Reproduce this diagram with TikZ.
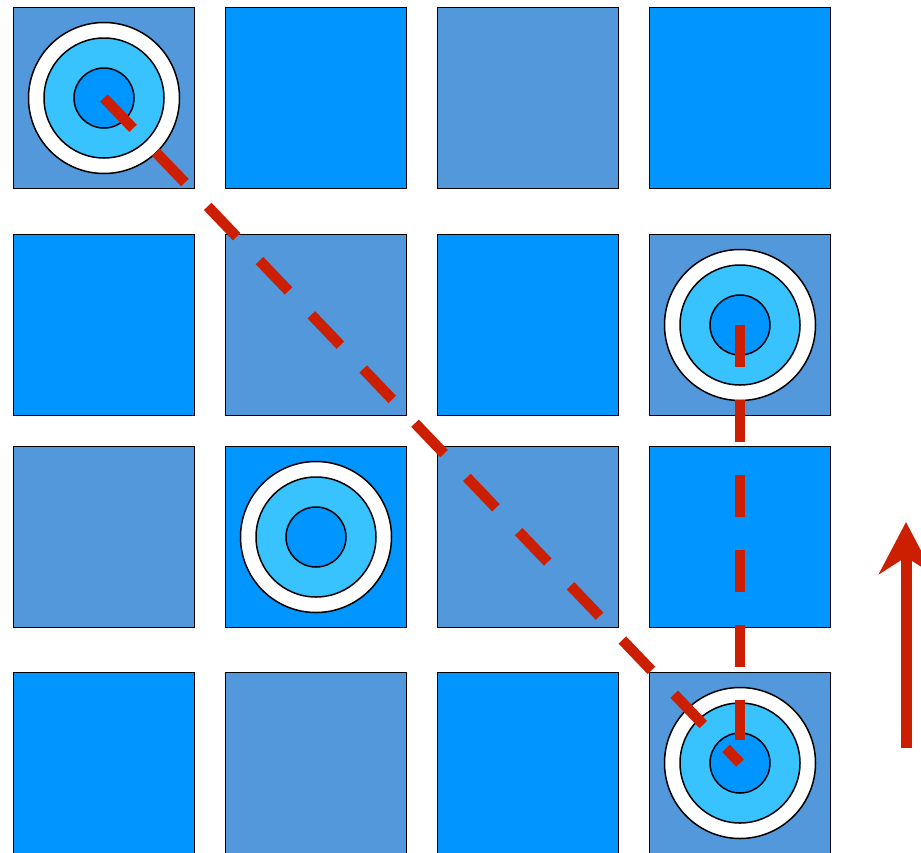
\documentclass[tikz,border=0pt]{standalone}
\usetikzlibrary{arrows.meta}

\definecolor{steeltile}{RGB}{82,152,219}
\definecolor{brighttile}{RGB}{0,149,255}
\definecolor{ringcyan}{RGB}{56,195,255}
\definecolor{pathred}{RGB}{204,30,0}

\tikzset{
  tile/.style={draw=black, line width=1.5pt, minimum size=181pt, inner sep=0pt},
  ringout/.style={circle, draw=black, line width=1.5pt, fill=white, minimum size=151pt, inner sep=0pt},
  ringmid/.style={circle, draw=black, line width=1.5pt, fill=ringcyan, minimum size=120pt, inner sep=0pt},
  ringin/.style={circle, draw=black, line width=1.5pt, fill=brighttile, minimum size=60pt, inner sep=0pt},
  route/.style={pathred, line width=10.5pt, dash pattern=on 42pt off 33pt}
}

\begin{document}
\begin{tikzpicture}[x=1pt, y=-1pt]
\useasboundingbox (0,0) rectangle (921,852);

% the board
\node[tile, fill=steeltile]  (t00) at (104,98) {};
\node[tile, fill=brighttile] (t01) at (316,98) {};
\node[tile, fill=steeltile]  (t02) at (528,98) {};
\node[tile, fill=brighttile] (t03) at (740,98) {};

\node[tile, fill=brighttile] (t10) at (104,325) {};
\node[tile, fill=steeltile]  (t11) at (316,325) {};
\node[tile, fill=brighttile] (t12) at (528,325) {};
\node[tile, fill=steeltile]  (t13) at (740,325) {};

\node[tile, fill=steeltile]  (t20) at (104,537) {};
\node[tile, fill=brighttile] (t21) at (316,537) {};
\node[tile, fill=steeltile]  (t22) at (528,537) {};
\node[tile, fill=brighttile] (t23) at (740,537) {};

\node[tile, fill=brighttile] (t30) at (104,763) {};
\node[tile, fill=steeltile]  (t31) at (316,763) {};
\node[tile, fill=brighttile] (t32) at (528,763) {};
\node[tile, fill=steeltile]  (t33) at (740,763) {};

% rings
\node[ringout] (r00o) at (t00.center) {};
\node[ringmid] (r00m) at (t00.center) {};
\node[ringin]  (r00i) at (t00.center) {};

\node[ringout] (r13o) at (t13.center) {};
\node[ringmid] (r13m) at (t13.center) {};
\node[ringin]  (r13i) at (t13.center) {};

\node[ringout] (r21o) at (t21.center) {};
\node[ringmid] (r21m) at (t21.center) {};
\node[ringin]  (r21i) at (t21.center) {};

\node[ringout] (r33o) at (t33.center) {};
\node[ringmid] (r33m) at (t33.center) {};
\node[ringin]  (r33i) at (t33.center) {};

% routes
\draw[route] (r00i.center) -- (r33i.center);
\draw[route] (r13i.center) -- ([yshift=23pt]r33i.center);

% direction
\coordinate (dirfoot) at (906,748);
\coordinate (dirtip) at (906,522);
\draw[pathred, line width=11pt, -{Stealth[length=52pt, width=54pt, inset=17pt]}] (dirfoot) -- (dirtip);
\end{tikzpicture}
\end{document}
